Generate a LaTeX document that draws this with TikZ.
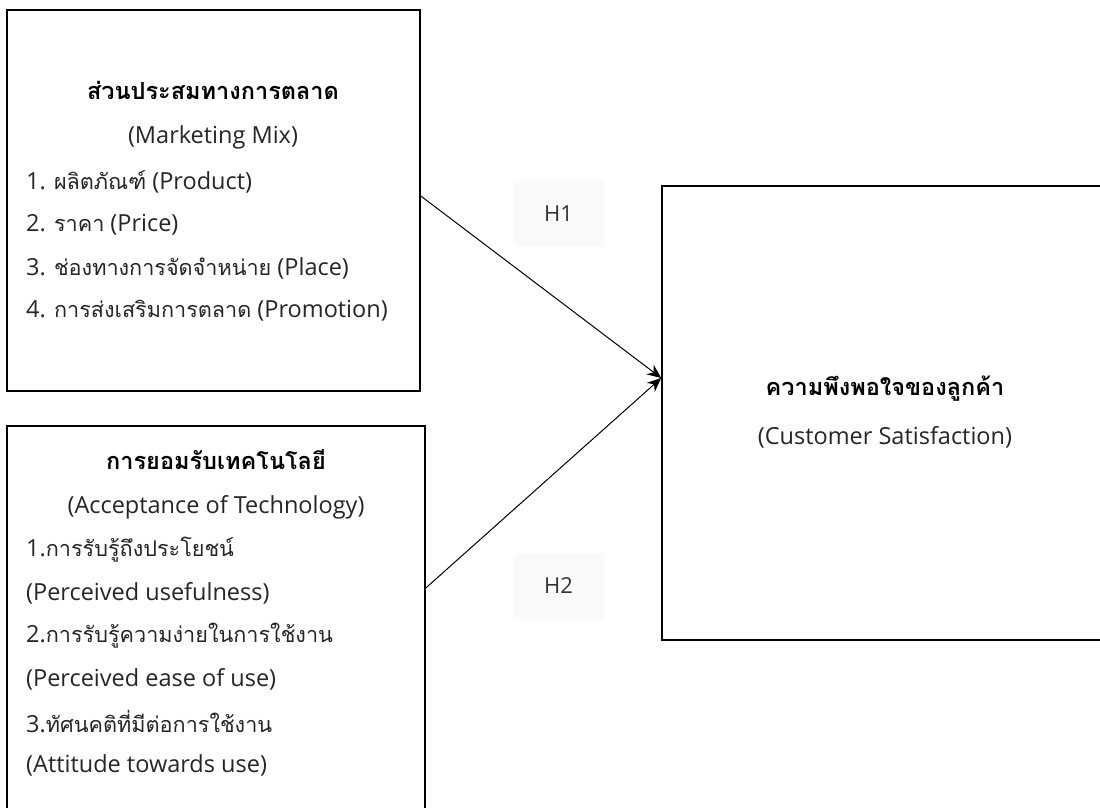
\documentclass[tikz,border=0pt]{standalone}
\usepackage{fontspec}
\setmainfont{Open Sans}
\newfontfamily\thai[Script=Thai]{Loma}
\newfontfamily\thain[Script=Thai,Scale=0.92]{Loma}
\usetikzlibrary{arrows.meta,calc}
\begin{document}
\begin{tikzpicture}[x=1pt,y=-1pt,
  box/.style={draw=black,line width=1.6pt,rectangle,inner sep=0pt},
  txt/.style={inner sep=0pt,font=\fontsize{23.5}{26}\selectfont,text=black!85},
  head/.style={inner sep=0pt,font=\fontsize{23.5}{26}\selectfont\bfseries,text=black},
  hlab/.style={fill=black!2,draw=none,minimum width=91pt,minimum height=66pt,font=\fontsize{22}{24}\selectfont,text=black!80},
  conn/.style={line width=1pt,-{Stealth[length=14pt,width=12pt]}}]
\useasboundingbox[fill=white] (0,0) rectangle (1100,807);
% boxes
\node[box,minimum width=413pt,minimum height=381pt] (mm) at (213.5,200.5) {};
\node[box,minimum width=418pt,minimum height=420pt] (at) at (216,636) {};
\node[box,minimum width=460pt,minimum height=454pt] (cs) at (892,413) {};
% H labels
\node[hlab] (h1) at (558.5,214) {H1};
\node[hlab] (h2) at (558.5,586) {H2};
% box 1 text
\node[head] (mmh) at (213,90) {\thai ส่วนประสมทางการตลาด};
\node[txt] (mme) at (213,137) {(Marketing Mix)};
\node[txt,anchor=west] (mm1) at (26,182) {1. {\thain ผลิตภัณฑ์} (Product)};
\node[txt,anchor=west] (mm2) at (26,225) {2. {\thain ราคา} (Price)};
\node[txt,anchor=west] (mm3) at (26,268) {3. {\thain ช่องทางการจัดจำหน่าย} (Place)};
\node[txt,anchor=west] (mm4) at (26,311) {4. {\thain การส่งเสริมการตลาด} (Promotion)};
% box 2 text
\node[head] (ath) at (216,460) {\thai การยอมรับเทคโนโลยี};
\node[txt] (ate) at (216,507) {(Acceptance of Technology)};
\node[txt,anchor=west] (at1) at (26,550) {1.{\thain การรับรู้ถึงประโยชน์}};
\node[txt,anchor=west] (at1e) at (26,593) {(Perceived usefulness)};
\node[txt,anchor=west] (at2) at (26,636) {2.{\thain การรับรู้ความง่ายในการใช้งาน}};
\node[txt,anchor=west] (at2e) at (26,679) {(Perceived ease of use)};
\node[txt,anchor=west] (at3) at (26,722) {3.{\thain ทัศนคติที่มีต่อการใช้งาน}};
\node[txt,anchor=west] (at3e) at (26,765) {(Attitude towards use)};
% box 3 text
\node[head] (csh) at (885,389) {\thai ความพึงพอใจของลูกค้า};
\node[txt] (cse) at (885,437) {(Customer Satisfaction)};
% connectors
\coordinate (s1) at ([yshift=4.5pt]mm.east);
\coordinate (s2) at ([yshift=48pt]at.east);
\coordinate (t) at ([yshift=35pt]cs.west);
\draw[conn] (s1) -- (t);
\draw[conn] (s2) -- (t);
\end{tikzpicture}
\end{document}
